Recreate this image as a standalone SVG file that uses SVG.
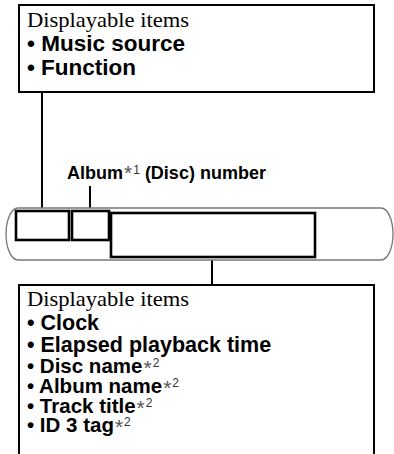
<svg xmlns="http://www.w3.org/2000/svg" width="394" height="454" viewBox="0 0 394 454">
<style>
.box{fill:#fff;stroke:#000;stroke-width:2}
.seg{fill:none;stroke:#000;stroke-width:2.6}
.ln{fill:none;stroke:#000;stroke-width:2}
.bar{fill:#fff;stroke:#777;stroke-width:1.3}
.hd{font-family:"Liberation Serif","Times New Roman",serif;font-size:21px;fill:#000}
.b{font-family:"Liberation Sans",Arial,sans-serif;font-weight:bold;font-size:21.5px;fill:#000}
.bs{font-family:"Liberation Sans",Arial,sans-serif;font-weight:bold;font-size:20.5px;fill:#000}
.bt{font-family:"Liberation Sans",Arial,sans-serif;font-weight:bold;font-size:22px;fill:#000}
.lb{font-family:"Liberation Sans",Arial,sans-serif;font-weight:bold;font-size:18px;fill:#000}
.ast{font-weight:normal;font-size:21px;fill:#555}
.sup{font-weight:normal;font-size:12px;fill:#333}
</style>
<g id="connectors">
<line class="ln" x1="42" y1="92" x2="42" y2="211"/>
<line class="ln" x1="90" y1="186" x2="90" y2="211"/>
<line class="ln" x1="212" y1="257" x2="212" y2="285"/>
</g>
<g id="top-box">
<rect class="box" x="19" y="5" width="355" height="87"/>
<text class="hd" x="27" y="27" textLength="162" lengthAdjust="spacingAndGlyphs">Displayable items</text>
<text class="bt" x="27" y="51" textLength="158" lengthAdjust="spacingAndGlyphs">• Music source</text>
<text class="bt" x="27" y="75" textLength="109" lengthAdjust="spacingAndGlyphs">• Function</text>
</g>
<g id="album-label">
<text class="lb" x="67" y="179">Album<tspan class="ast" font-size="20" dx="1" dy="1">*</tspan><tspan class="sup" dx="1" dy="-6">1</tspan><tspan dx="5" dy="5">(Disc) number</tspan></text>
</g>
<g id="display">
<rect class="bar" x="6" y="208" width="387" height="52" rx="12" ry="26"/>
<rect id="seg1" class="seg" x="16" y="211" width="53" height="29"/>
<rect id="seg2" class="seg" x="72" y="211" width="37" height="29"/>
<rect id="seg3" class="seg" x="111" y="213" width="204" height="44"/>
</g>
<g id="bottom-box">
<path class="box" d="M19,460 V285 H374 V460"/>
<text class="hd" x="27" y="306" textLength="162" lengthAdjust="spacingAndGlyphs">Displayable items</text>
<text class="b" x="27" y="330">• Clock</text>
<text class="b" x="27" y="352">• Elapsed playback time</text>
<text class="bs" x="27" y="373">• Disc name<tspan class="ast" dx="1" dy="2">*</tspan><tspan class="sup" dx="1" dy="-8">2</tspan></text>
<text class="bs" x="27" y="393">• Album name<tspan class="ast" dx="1" dy="2">*</tspan><tspan class="sup" dx="1" dy="-8">2</tspan></text>
<text class="bs" x="27" y="413">• Track title<tspan class="ast" dx="1" dy="2">*</tspan><tspan class="sup" dx="1" dy="-8">2</tspan></text>
<text class="bs" x="27" y="432">• ID 3 tag<tspan class="ast" dx="1" dy="2">*</tspan><tspan class="sup" dx="1" dy="-8">2</tspan></text>
</g>
</svg>
